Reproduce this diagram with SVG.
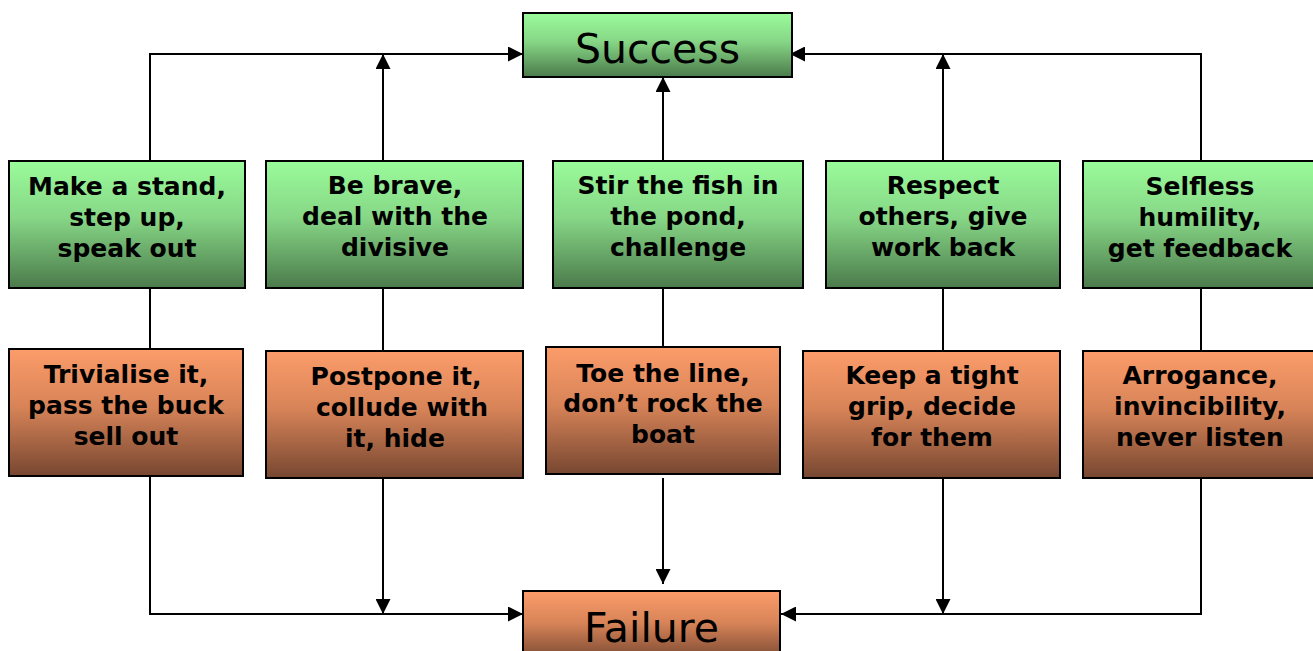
<svg xmlns="http://www.w3.org/2000/svg" width="1313" height="651" viewBox="0 0 1313 651">
<defs>
<linearGradient id="gg" x1="0" y1="0" x2="0" y2="1">
<stop offset="0" stop-color="#9AFC9A"/>
<stop offset="0.45" stop-color="#86D686"/>
<stop offset="1" stop-color="#4B7A4B"/>
</linearGradient>
<linearGradient id="og" x1="0" y1="0" x2="0" y2="1">
<stop offset="0" stop-color="#FC9C6A"/>
<stop offset="0.45" stop-color="#D88458"/>
<stop offset="1" stop-color="#774731"/>
</linearGradient>
<marker id="ah" viewBox="0 0 15 15" refX="15" refY="7.5" markerWidth="15" markerHeight="15" markerUnits="userSpaceOnUse" orient="auto">
<path d="M0,0 L15,7.5 L0,15 Z" fill="#000"/>
</marker>
<style>
.g{fill:url(#gg);stroke:#000;stroke-width:2}
.o{fill:url(#og);stroke:#000;stroke-width:2}
.t{font-family:"DejaVu Sans","Verdana",sans-serif;font-weight:bold;font-size:25px;fill:#000;text-anchor:middle}
.big{font-family:"DejaVu Sans","Verdana",sans-serif;font-size:41px;fill:#000;text-anchor:middle}
.c{fill:none;stroke:#000;stroke-width:2}
.a{marker-end:url(#ah)}
</style>
</defs>
<rect width="1313" height="651" fill="#fff"/>
<g id="connectors">
<path class="c a" d="M150,161 V54 H523"/>
<path class="c a" d="M383,161 V54"/>
<path class="c a" d="M663,161 V77"/>
<path class="c a" d="M943,161 V54"/>
<path class="c a" d="M1201,161 V54 H790"/>
<path class="c" d="M150,288 V349"/>
<path class="c" d="M383,288 V351"/>
<path class="c" d="M663,288 V347"/>
<path class="c" d="M943,288 V351"/>
<path class="c" d="M1201,288 V351"/>
<path class="c a" d="M150,476 V614 H523"/>
<path class="c a" d="M383,478 V614"/>
<path class="c a" d="M663,478 V584"/>
<path class="c a" d="M943,478 V614"/>
<path class="c a" d="M1201,478 V614 H781"/>
</g>
<g id="success">
<rect class="g" x="523" y="13" width="269" height="64"/>
<text class="big" x="657.5" y="63">Success</text>
</g>
<g id="failure">
<rect class="o" x="523" y="591" width="257" height="70"/>
<text class="big" x="651.5" y="642">Failure</text>
</g>
<g id="g1">
<rect class="g" x="9" y="161" width="236" height="127"/>
<text class="t" x="127"><tspan x="127" y="195">Make a stand,</tspan><tspan x="127" y="226">step up,</tspan><tspan x="127" y="257">speak out</tspan></text>
</g>
<g id="g2">
<rect class="g" x="266" y="161" width="257" height="127"/>
<text class="t"><tspan x="395" y="194">Be brave,</tspan><tspan x="395" y="225">deal with the</tspan><tspan x="395" y="256">divisive</tspan></text>
</g>
<g id="g3">
<rect class="g" x="553" y="161" width="250" height="127"/>
<text class="t"><tspan x="678" y="194">Stir the fish in</tspan><tspan x="678" y="225">the pond,</tspan><tspan x="678" y="256">challenge</tspan></text>
</g>
<g id="g4">
<rect class="g" x="826" y="161" width="234" height="127"/>
<text class="t"><tspan x="943" y="194">Respect</tspan><tspan x="943" y="225">others, give</tspan><tspan x="943" y="256">work back</tspan></text>
</g>
<g id="g5">
<rect class="g" x="1083" y="161" width="240" height="127"/>
<text class="t"><tspan x="1200" y="195">Selfless</tspan><tspan x="1200" y="226">humility,</tspan><tspan x="1200" y="257">get feedback</tspan></text>
</g>
<g id="o1">
<rect class="o" x="9" y="349" width="234" height="127"/>
<text class="t"><tspan x="126" y="383">Trivialise it,</tspan><tspan x="126" y="414">pass the buck</tspan><tspan x="126" y="445">sell out</tspan></text>
</g>
<g id="o2">
<rect class="o" x="266" y="351" width="257" height="127"/>
<text class="t"><tspan x="396" y="385">Postpone it,</tspan><tspan x="402" y="416">collude with</tspan><tspan x="395" y="447">it, hide</tspan></text>
</g>
<g id="o3">
<rect class="o" x="546" y="347" width="234" height="127"/>
<text class="t"><tspan x="663" y="382">Toe the line,</tspan><tspan x="663" y="412">don’t rock the</tspan><tspan x="663" y="443">boat</tspan></text>
</g>
<g id="o4">
<rect class="o" x="803" y="351" width="257" height="127"/>
<text class="t"><tspan x="932" y="384">Keep a tight</tspan><tspan x="932" y="415">grip, decide</tspan><tspan x="932" y="446">for them</tspan></text>
</g>
<g id="o5">
<rect class="o" x="1083" y="351" width="240" height="127"/>
<text class="t"><tspan x="1200" y="384">Arrogance,</tspan><tspan x="1200" y="415">invincibility,</tspan><tspan x="1200" y="446">never listen</tspan></text>
</g>
</svg>
